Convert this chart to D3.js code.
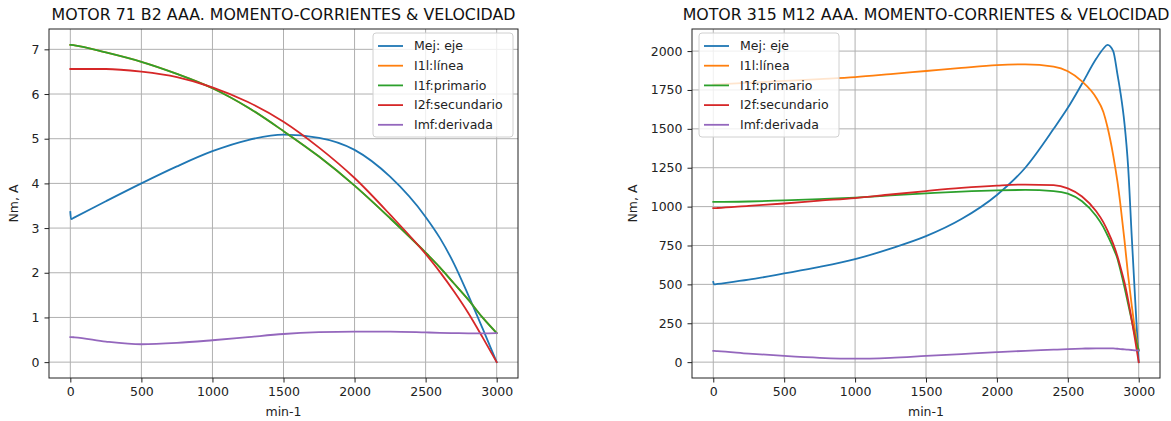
<!DOCTYPE html>
<html>
<head>
<meta charset="utf-8">
<script src="https://cdn.jsdelivr.net/npm/d3@7"></script>
<style>
  body { margin: 0; background: #fff; }
  svg { display: block; font-family: "DejaVu Sans", sans-serif; }
</style>
</head>
<body>
<svg id="chart" width="1171" height="421"></svg>
<script>
// --- data ---
const seriesNames = ["Mej: eje", "I1l:línea", "I1f:primario", "I2f:secundario", "Imf:derivada"];
const seriesColors = ["#1f77b4", "#ff7f0e", "#2ca02c", "#d62728", "#9467bd"];
const speedTicks = [0, 500, 1000, 1500, 2000, 2500, 3000];

// MOTOR 71 B2
const speed71 = [0, 5, 30, 250, 500, 750, 1000, 1250, 1500, 1750, 2000, 2250, 2500, 2600, 2700, 2800, 2900, 3000];
const mej71 = [3.36, 3.2, 3.24, 3.6, 4.0, 4.38, 4.72, 4.97, 5.09, 5.02, 4.75, 4.15, 3.25, 2.78, 2.2, 1.5, 0.76, 0];
const i1l71 = [7.1, 7.1, 7.09, 6.93, 6.72, 6.45, 6.13, 5.7, 5.17, 4.6, 3.95, 3.22, 2.45, 2.12, 1.76, 1.4, 1.0, 0.65];
const i1f71 = [7.1, 7.1, 7.09, 6.93, 6.72, 6.45, 6.13, 5.7, 5.17, 4.6, 3.95, 3.22, 2.45, 2.12, 1.76, 1.4, 1.0, 0.65];
const i2f71 = [6.56, 6.56, 6.56, 6.56, 6.5, 6.38, 6.15, 5.82, 5.38, 4.8, 4.12, 3.3, 2.42, 2.02, 1.58, 1.1, 0.56, 0];
const imf71 = [0.56, 0.56, 0.555, 0.46, 0.40, 0.43, 0.49, 0.56, 0.63, 0.67, 0.685, 0.685, 0.665, 0.655, 0.65, 0.645, 0.645, 0.65];
const yTicks71 = [0, 1, 2, 3, 4, 5, 6, 7];

// MOTOR 315 M12
const speed315 = [0, 5, 30, 250, 500, 750, 1000, 1250, 1500, 1750, 2000, 2200, 2400, 2500, 2600, 2700, 2750, 2780, 2820, 2850, 2870, 2900, 2925, 2950, 2975, 3000];
const mej315 = [515, 500, 503, 530, 570, 612, 662, 730, 810, 920, 1075, 1250, 1500, 1635, 1790, 1950, 2015, 2040, 2000, 1850, 1740, 1530, 1260, 820, 400, 0];
const i1l315 = [1785, 1785, 1786, 1796, 1808, 1820, 1833, 1852, 1872, 1892, 1910, 1915, 1900, 1870, 1805, 1700, 1610, 1510, 1330, 1160, 1020, 780, 560, 370, 200, 75];
const i1f315 = [1030, 1030, 1030, 1033, 1040, 1048, 1058, 1072, 1085, 1097, 1105, 1107, 1100, 1083, 1035, 940, 870, 815, 735, 665, 595, 480, 375, 270, 165, 75];
const i2f315 = [990, 990, 991, 1005, 1020, 1038, 1055, 1078, 1100, 1120, 1135, 1142, 1138, 1117, 1065, 970, 900, 845, 760, 680, 615, 510, 400, 275, 140, 0];
const imf315 = [72, 72, 71, 55, 40, 28, 22, 28, 40, 52, 64, 73, 80, 84, 87, 89, 89, 89, 88, 86, 84, 82, 80, 78, 76, 75];
const yTicks315 = [0, 250, 500, 750, 1000, 1250, 1500, 1750, 2000];

const svg = d3.select("#chart");

function drawChart(opts) {
  let top = 29, bottom = 378;
  let g = svg.append("g");

  let allY = d3.merge(opts.series);
  let ext = d3.extent(allY);
  let pad = (ext[1] - ext[0]) * 0.05;
  let xext = d3.extent(opts.speed);
  let xpad = (xext[1] - xext[0]) * 0.05;

  let x = d3.scaleLinear()
      .domain([xext[0] - xpad, xext[1] + xpad])
      .range([opts.left, opts.right]);
  let y = d3.scaleLinear()
      .domain([ext[0] - pad, ext[1] + pad])
      .range([bottom, top]);

  // grid
  g.append("g")
    .selectAll("line")
    .data(speedTicks)
    .enter().append("line")
      .attr("x1", d => x(d)).attr("x2", d => x(d))
      .attr("y1", top).attr("y2", bottom)
      .attr("stroke", "#b0b0b0").attr("stroke-width", 1);
  g.append("g")
    .selectAll("line")
    .data(opts.yTicks)
    .enter().append("line")
      .attr("x1", opts.left).attr("x2", opts.right)
      .attr("y1", d => y(d)).attr("y2", d => y(d))
      .attr("stroke", "#b0b0b0").attr("stroke-width", 1);

  // lines
  let line = d3.line()
      .x((d, i) => x(opts.speed[i]))
      .y(d => y(d))
      .curve(d3.curveMonotoneX);

  let plot = g.append("g");
  opts.series.forEach((s, k) => {
    plot.append("path")
      .attr("d", line(s))
      .attr("fill", "none")
      .attr("stroke", seriesColors[k])
      .attr("stroke-width", 1.8)
      .attr("stroke-linejoin", "round")
      .attr("stroke-linecap", "square");
  });

  // axes
  let fmt = d3.format("d");
  let xAxis = g.append("g")
      .attr("transform", `translate(0,${bottom})`)
      .call(d3.axisBottom(x).tickValues(speedTicks).tickFormat(fmt).tickSize(4.5).tickPadding(5).tickSizeOuter(0));
  let yAxis = g.append("g")
      .attr("transform", `translate(${opts.left},0)`)
      .call(d3.axisLeft(y).tickValues(opts.yTicks).tickFormat(fmt).tickSize(4.5).tickPadding(5).tickSizeOuter(0));
  [xAxis, yAxis].forEach(a => {
    a.select(".domain").remove();
    a.selectAll("text").attr("font-family", "DejaVu Sans").style("font-size", "12.5px").attr("fill", "#222");
    a.selectAll("line").attr("stroke", "#222").attr("stroke-width", 1);
  });

  // frame
  g.append("rect")
    .attr("x", opts.left).attr("y", top)
    .attr("width", opts.right - opts.left).attr("height", bottom - top)
    .attr("fill", "none").attr("stroke", "#222").attr("stroke-width", 1);

  // titles
  g.append("text")
    .attr("x", (opts.left + opts.right) / 2).attr("y", 20)
    .attr("text-anchor", "middle")
    .style("font-size", "15.8px").attr("fill", "#111")
    .text(opts.title);
  g.append("text")
    .attr("x", (opts.left + opts.right) / 2).attr("y", 416)
    .attr("text-anchor", "middle")
    .style("font-size", "12.5px").attr("fill", "#222")
    .text("min-1");
  g.append("text")
    .attr("transform", `translate(${opts.ylabelX},${(top + bottom) / 2}) rotate(-90)`)
    .attr("text-anchor", "middle")
    .style("font-size", "12.5px").attr("fill", "#222")
    .text("Nm, A");

  // legend
  let lg = g.append("g").attr("transform", `translate(${opts.legendX},33)`);
  lg.append("rect")
    .attr("width", 140).attr("height", 104)
    .attr("rx", 3)
    .attr("fill", "white").attr("fill-opacity", 0.8)
    .attr("stroke", "#d0d0d0").attr("stroke-width", 1);
  seriesNames.forEach((name, k) => {
    let yy = 13 + k * 19.7;
    lg.append("line")
      .attr("x1", 5).attr("x2", 30)
      .attr("y1", yy).attr("y2", yy)
      .attr("stroke", seriesColors[k]).attr("stroke-width", 1.8);
    lg.append("text")
      .attr("x", 41).attr("y", yy)
      .attr("dy", "0.35em")
      .style("font-size", "12.5px").attr("fill", "#222")
      .text(name);
  });
}

drawChart({
  title: "MOTOR 71 B2 AAA. MOMENTO-CORRIENTES & VELOCIDAD",
  left: 49, right: 518, ylabelX: 18, legendX: 373,
  speed: speed71,
  series: [mej71, i1l71, i1f71, i2f71, imf71],
  yTicks: yTicks71
});

drawChart({
  title: "MOTOR 315 M12 AAA. MOMENTO-CORRIENTES & VELOCIDAD",
  left: 692, right: 1160, ylabelX: 637, legendX: 699,
  speed: speed315,
  series: [mej315, i1l315, i1f315, i2f315, imf315],
  yTicks: yTicks315
});
</script>
</body>
</html>
